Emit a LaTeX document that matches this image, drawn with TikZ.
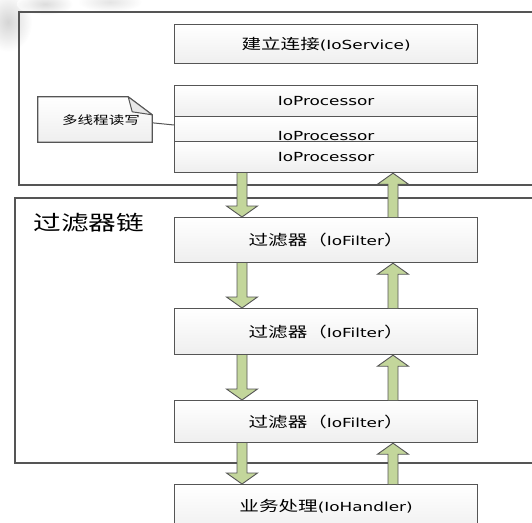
\documentclass[tikz,border=0pt]{standalone}
\usepackage{fontspec}
\setmainfont{DejaVu Sans}[FakeStretch=1.35]
\newfontfamily\cjk{Noto Sans CJK SC}[FakeStretch=1.35]
\usetikzlibrary{calc}
\definecolor{bordergray}{HTML}{555555}
\definecolor{arrowgreen}{HTML}{C3D69B}
\newcommand\blockarrow[3]{%
  \draw[arr] let \p1=(#1), \p2=(#2) in
    (\x1-5pt,\y1) -- (\x1-5pt,\y2+#3) -- (\x1-15.5pt,\y2+#3) -- (\x1,\y2)
    -- (\x1+15.5pt,\y2+#3) -- (\x1+5pt,\y2+#3) -- (\x1+5pt,\y1);%
}
\begin{document}
\begin{tikzpicture}[x=1pt,y=-1pt,
  box/.style={draw=bordergray, line width=1.2pt, top color=white, bottom color=gray!13,
    minimum width=303pt, inner sep=0pt, anchor=north west,
    font=\fontsize{12.5}{14}\selectfont},
  frame/.style={draw=bordergray, line width=1.5pt},
  arr/.style={draw=bordergray, line width=0.9pt, fill=arrowgreen, line join=miter},
  conn/.style={draw=bordergray, line width=1pt}]
\useasboundingbox (0,0) rectangle (532,522);
\clip (0,0) rectangle (532,522);
% decorative smudge
\begin{scope}[opacity=0.6]
  \shade[inner color=gray!55, outer color=white] (8,22) ellipse (24 and 30);
  \shade[inner color=gray!45, outer color=white] (45,4) ellipse (28 and 11);
  \shade[inner color=gray!35, outer color=white] (110,2) ellipse (32 and 10);
\end{scope}
% frames
\draw[frame] (545,12) -- (19,12) -- (19,185) -- (545,185);
\draw[frame] (545,198) -- (15,198) -- (15,463) -- (545,463);
\node[anchor=west, font=\fontsize{20.5}{22}\cjk] (chain) at (30,223) {过滤器链};
% boxes
\node[box, minimum height=39pt] (svc) at (174,24) {{\fontsize{14.5}{16}\cjk 建立连接}(IoService)};
\node[box, minimum height=31pt] (proc1) at (174,85) {IoProcessor};
\node[box, minimum height=38pt] (proc2) at (174,116) {IoProcessor};
\node[box, minimum height=31pt] (proc3) at (174,141) {IoProcessor};
\node[box, minimum height=45pt] (flt1) at (174,217) {{\fontsize{14.5}{16}\cjk 过滤器（}IoFilter{\fontsize{14.5}{16}\cjk ）}};
\node[box, minimum height=46pt] (flt2) at (174,308) {{\fontsize{14.5}{16}\cjk 过滤器（}IoFilter{\fontsize{14.5}{16}\cjk ）}};
\node[box, minimum height=42pt] (flt3) at (174,400) {{\fontsize{14.5}{16}\cjk 过滤器（}IoFilter{\fontsize{14.5}{16}\cjk ）}};
\node[box, minimum height=50pt, text depth=0pt] (hdl) at (174,484) {\raisebox{9pt}{{\fontsize{14.5}{16}\cjk 业务处理}(IoHandler)}};
% note
\node[minimum width=114pt, minimum height=45pt, inner sep=0pt] (note) at (95,119.5) {};
\draw[draw=bordergray, line width=1.2pt, top color=white, bottom color=gray!13]
  (note.north west) -- ($(note.north east)+(-24,0)$) -- ($(note.north east)+(0,18)$)
  -- (note.south east) -- (note.south west) -- cycle;
\draw[draw=bordergray, line width=1pt, fill=gray!18, line join=round]
  ($(note.north east)+(-24,0)$) -- ($(note.north east)+(0,18)$) -- ($(note.north east)+(-20,15)$) -- cycle;
\node[font=\fontsize{11.5}{13}\cjk] (notetext) at (101,120) {多线程读写};
\draw[conn] ($(note.north east)+(0,26)$) -- ($(proc2.north west)+(0,9)$);
% arrows
\blockarrow{$(proc3.south west)+(68,0)$}{$(flt1.north west)+(68,0)$}{11pt}
\blockarrow{$(flt1.north west)+(219,0)$}{$(proc3.south west)+(219,0)$}{-11pt}
\blockarrow{$(flt1.south west)+(68,0)$}{$(flt2.north west)+(68,0)$}{11pt}
\blockarrow{$(flt2.north west)+(219,0)$}{$(flt1.south west)+(219,0)$}{-11pt}
\blockarrow{$(flt2.south west)+(68,0)$}{$(flt3.north west)+(68,0)$}{11pt}
\blockarrow{$(flt3.north west)+(219,0)$}{$(flt2.south west)+(219,0)$}{-11pt}
\blockarrow{$(flt3.south west)+(68,0)$}{$(hdl.north west)+(68,0)$}{11pt}
\blockarrow{$(hdl.north west)+(219,0)$}{$(flt3.south west)+(219,0)$}{-11pt}
\end{tikzpicture}
\end{document}
